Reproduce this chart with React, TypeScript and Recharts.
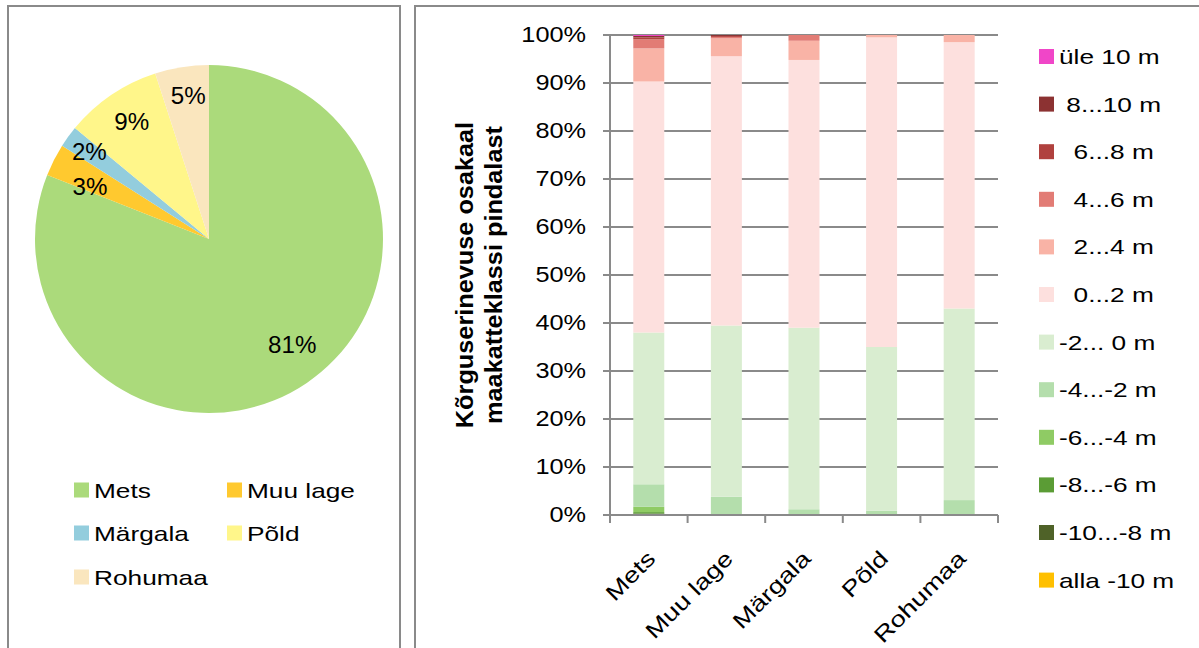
import { PieChart, Pie, Cell, Legend, BarChart, Bar, XAxis, YAxis, CartesianGrid } from "recharts"

const FONT = "'Liberation Sans', Arial, sans-serif"
const AXIS_GRAY = "#8a8a8a"

// land cover classes (pie slices and bar categories)
const landClasses = ["Mets", "Muu lage", "Märgala", "Põld", "Rohumaa"]
const landShares = [81, 3, 2, 9, 5]
const landColors = ["#ABDA7B", "#FFC92F", "#93CDDD", "#FFF68A", "#FAE6BE"]

// height difference classes, bottom of the stack first
const heightLabels = [
  "alla -10 m",
  "-10...-8 m",
  "-8...-6 m",
  "-6...-4 m",
  "-4...-2 m",
  "-2... 0 m",
  "  0...2 m",
  "  2...4 m",
  "  4...6 m",
  "  6...8 m",
  " 8...10 m",
  "üle 10 m",
]
const heightColors = [
  "#FFC000",
  "#4F6228",
  "#5B9C35",
  "#8FCB64",
  "#B4DEAC",
  "#D9EDD0",
  "#FDE0DE",
  "#F9B3A6",
  "#E27C75",
  "#B0413E",
  "#8C3232",
  "#F046C8",
]

// share of each height class per land cover class (Mets, Muu lage, Märgala, Põld, Rohumaa), %
const below10 = [0, 0, 0, 0, 0]
const minus10to8 = [0.3, 0, 0, 0, 0]
const minus8to6 = [0.3, 0, 0, 0, 0]
const minus6to4 = [1.1, 0, 0, 0, 0.1]
const minus4to2 = [4.7, 3.8, 1.2, 0.9, 3.0]
const minus2to0 = [31.6, 35.7, 37.8, 34.1, 39.9]
const plus0to2 = [52.3, 56.1, 55.8, 64.5, 55.5]
const plus2to4 = [6.9, 3.7, 4.0, 0.5, 1.5]
const plus4to6 = [1.9, 0.3, 1.2, 0, 0]
const plus6to8 = [0.4, 0.2, 0, 0, 0]
const plus8to10 = [0.3, 0.2, 0, 0, 0]
const above10 = [0.2, 0, 0, 0, 0]

const heightValues = [
  below10, minus10to8, minus8to6, minus6to4, minus4to2, minus2to0,
  plus0to2, plus2to4, plus4to6, plus6to8, plus8to10, above10,
]

const yTicks = [0, 0.1, 0.2, 0.3, 0.4, 0.5, 0.6, 0.7, 0.8, 0.9, 1]

// small shifts so the narrow-slice labels do not collide
const pieLabelNudge = [
  [5, -9],
  [5, 11],
  [-7, -5],
  [1, -2],
  [1, -5],
]

const pieData = landClasses.map((name, i) => ({ name, value: landShares[i] }))

const barData = landClasses.map((name, i) => {
  const row: Record<string, string | number> = { name }
  heightValues.forEach((vals, k) => {
    row["h" + k] = vals[i]
  })
  return row
})

const RADIAN = Math.PI / 180

function PieLabel(props: any) {
  const { cx, cy, midAngle, outerRadius, value, index } = props
  const r = outerRadius * 0.8
  const [dx, dy] = pieLabelNudge[index] || [0, 0]
  const x = cx + r * Math.cos(-midAngle * RADIAN) + dx
  const y = cy + r * Math.sin(-midAngle * RADIAN) + dy
  return (
    <text
      transform={`translate(${x},${y}) scale(1.05,1)`}
      textAnchor="middle"
      dominantBaseline="central"
      fontSize={23}
      fontFamily={FONT}
      fill="#000"
    >
      {value}%
    </text>
  )
}

function PieLegend() {
  const cols = [74, 227]
  const rows = [490, 533, 577]
  return (
    <svg width={400} height={648}>
      {landClasses.map((name, i) => {
        const x = cols[i % 2]
        const y = rows[Math.floor(i / 2)]
        return (
          <g key={name}>
            <rect x={x} y={y - 7.5} width={15} height={15} fill={landColors[i]} />
            <text
              transform={`translate(${x + 20},${y}) scale(1.25,1)`}
              dominantBaseline="central"
              fontSize={21}
              fontFamily={FONT}
              fill="#000"
            >
              {name}
            </text>
          </g>
        )
      })}
    </svg>
  )
}

function HeightLegend() {
  const order = heightLabels.map((_, i) => heightLabels.length - 1 - i)
  return (
    <svg width={160} height={648}>
      {order.map((k, row) => {
        const y = 56.5 + row * 47.6
        return (
          <g key={k}>
            <rect x={0} y={y - 7.5} width={15} height={15} fill={heightColors[k]} />
            <text
              transform={`translate(20,${y}) scale(1.25,1)`}
              dominantBaseline="central"
              fontSize={21}
              fontFamily={FONT}
              fill="#000"
              style={{ whiteSpace: "pre" }}
            >
              {heightLabels[k]}
            </text>
          </g>
        )
      })}
    </svg>
  )
}

function PercentTick(props: any) {
  const { x, y, payload } = props
  return (
    <text
      transform={`translate(${x},${y}) scale(1.15,1)`}
      textAnchor="end"
      dominantBaseline="central"
      fontSize={22}
      fontFamily={FONT}
      fill="#000"
    >
      {Math.round(payload.value * 100)}%
    </text>
  )
}

function CategoryTick(props: any) {
  const { x, y, payload, index } = props
  const half = payload.offset || 38.8
  const left = payload.coordinate - half
  const right = payload.coordinate + half
  return (
    <g>
      <line x1={left} x2={left} y1={y} y2={y + 8} stroke={AXIS_GRAY} strokeWidth={2} />
      {index === landClasses.length - 1 && (
        <line x1={right} x2={right} y1={y} y2={y + 8} stroke={AXIS_GRAY} strokeWidth={2} />
      )}
      <text
        transform={`translate(${x + 8},${y + 45}) rotate(-45) scale(1.25,1)`}
        textAnchor="end"
        fontSize={22}
        fontFamily={FONT}
        fill="#000"
      >
        {payload.value}
      </text>
    </g>
  )
}

function AxisTitle(props: any) {
  const { viewBox } = props
  const cy = viewBox.y + viewBox.height / 2
  const lines = ["Kõrguserinevuse osakaal", "maakatteklassi pindalast"]
  return (
    <g>
      {lines.map((line, i) => (
        <text
          key={line}
          transform={`translate(${viewBox.x + 53 + i * 29},${cy}) rotate(-90) scale(1.1,1)`}
          textAnchor="middle"
          fontSize={23}
          fontWeight="bold"
          fontFamily={FONT}
          fill="#000"
        >
          {line}
        </text>
      ))}
    </g>
  )
}

export default function App() {
  return (
    <div
      style={{
        position: "absolute",
        left: 0,
        top: 0,
        width: 1199,
        height: 648,
        overflow: "hidden",
        background: "#fff",
        fontFamily: FONT,
      }}
    >
      <div style={{ position: "absolute", left: 7, top: 5, width: 390, height: 700, border: `2px solid ${AXIS_GRAY}` }} />
      <div style={{ position: "absolute", left: 414, top: 5, width: 800, height: 700, border: `2px solid ${AXIS_GRAY}` }} />

      <div style={{ position: "absolute", left: 0, top: 0 }}>
        <PieChart width={400} height={648} margin={{ top: 0, right: 0, bottom: 0, left: 0 }}>
          <Pie
            data={pieData}
            dataKey="value"
            nameKey="name"
            cx={209}
            cy={239}
            outerRadius={174}
            startAngle={90}
            endAngle={-270}
            stroke="none"
            label={PieLabel}
            labelLine={false}
            isAnimationActive={false}
          >
            {pieData.map((d, i) => (
              <Cell key={d.name} fill={landColors[i]} />
            ))}
          </Pie>
          <Legend
            layout="vertical"
            align="center"
            verticalAlign="middle"
            wrapperStyle={{ left: 0, top: 0, width: 400, height: 648 }}
            content={() => <PieLegend />}
          />
        </PieChart>
      </div>

      <div style={{ position: "absolute", left: 420, top: 0 }}>
        <BarChart
          width={779}
          height={648}
          data={barData}
          stackOffset="expand"
          barCategoryGap="30%"
          margin={{ top: 35, right: 201, bottom: 73, left: 0 }}
        >
          <CartesianGrid vertical={false} stroke={AXIS_GRAY} strokeWidth={2} />
          <XAxis
            dataKey="name"
            height={60}
            interval={0}
            tickSize={0}
            tickMargin={0}
            tickLine={false}
            axisLine={{ stroke: AXIS_GRAY, strokeWidth: 2 }}
            tick={<CategoryTick />}
          />
          <YAxis
            width={190}
            domain={[0, 1]}
            ticks={yTicks}
            interval={0}
            tickSize={7}
            tickMargin={17}
            tickLine={{ stroke: AXIS_GRAY, strokeWidth: 2 }}
            axisLine={{ stroke: AXIS_GRAY, strokeWidth: 2 }}
            tick={<PercentTick />}
            label={{ content: AxisTitle }}
          />
          {heightValues.map((_, k) => (
            <Bar
              key={k}
              dataKey={"h" + k}
              name={heightLabels[k]}
              stackId="h"
              fill={heightColors[k]}
              isAnimationActive={false}
            />
          ))}
          <Legend
            layout="vertical"
            align="center"
            verticalAlign="middle"
            wrapperStyle={{ left: 1039 - 420, top: 0, width: 160, height: 648 }}
            content={() => <HeightLegend />}
          />
        </BarChart>
      </div>
    </div>
  )
}
